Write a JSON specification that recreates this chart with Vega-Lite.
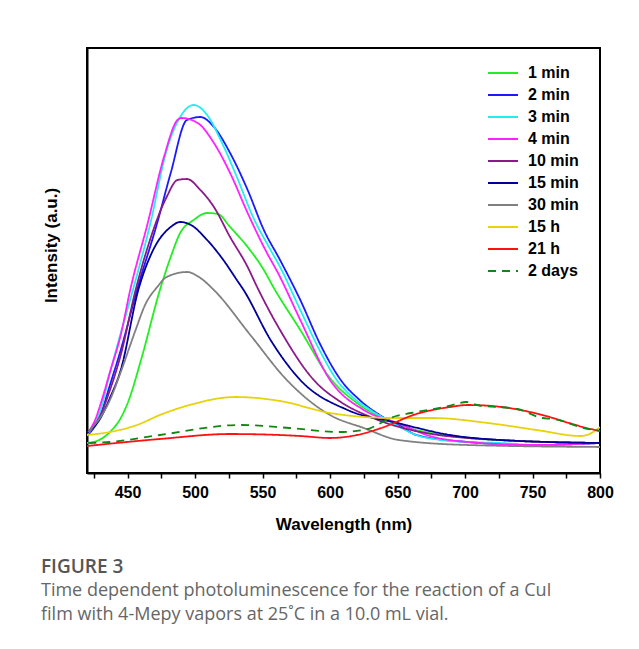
{
  "$schema": "https://vega.github.io/schema/vega-lite/v6.json",
  "width": 513,
  "height": 425,
  "autosize": {"type": "none"},
  "padding": {"left": 87, "top": 48, "right": 39, "bottom": 176},
  "background": "white",
  "config": {"view": {"stroke": "black", "strokeWidth": 2}, "font": "Liberation Sans"},
  "title": {
    "text": "FIGURE 3",
    "subtitle": ["Time dependent photoluminescence for the reaction of a CuI", "film with 4-Mepy vapors at 25˚C in a 10.0 mL vial."],
    "orient": "bottom",
    "anchor": "start",
    "frame": "group",
    "dx": -46,
    "offset": 26,
    "font": "Open Sans",
    "fontSize": 19,
    "fontWeight": 600,
    "color": "#555555",
    "subtitleFont": "Open Sans",
    "subtitleFontSize": 18,
    "subtitleColor": "#666666",
    "subtitlePadding": 5,
    "subtitleLineHeight": 24
  },
  "data": {
    "values": [
      {"s": "1 min", "nm": 420, "v": 30}, {"s": "1 min", "nm": 425, "v": 31}, {"s": "1 min", "nm": 437, "v": 41}, {"s": "1 min", "nm": 445, "v": 55}, {"s": "1 min", "nm": 451, "v": 73}, {"s": "1 min", "nm": 460, "v": 113}, {"s": "1 min", "nm": 474, "v": 183}, {"s": "1 min", "nm": 482, "v": 216}, {"s": "1 min", "nm": 489, "v": 240}, {"s": "1 min", "nm": 499, "v": 253}, {"s": "1 min", "nm": 509, "v": 260}, {"s": "1 min", "nm": 517, "v": 259}, {"s": "1 min", "nm": 526, "v": 246}, {"s": "1 min", "nm": 539, "v": 226}, {"s": "1 min", "nm": 551, "v": 203}, {"s": "1 min", "nm": 558, "v": 186}, {"s": "1 min", "nm": 578, "v": 143}, {"s": "1 min", "nm": 600, "v": 95}, {"s": "1 min", "nm": 622, "v": 68}, {"s": "1 min", "nm": 652, "v": 48}, {"s": "1 min", "nm": 696, "v": 36}, {"s": "1 min", "nm": 740, "v": 32}, {"s": "1 min", "nm": 800, "v": 30},
      {"s": "2 min", "nm": 420, "v": 37}, {"s": "2 min", "nm": 430, "v": 58}, {"s": "2 min", "nm": 437, "v": 88}, {"s": "2 min", "nm": 445, "v": 123}, {"s": "2 min", "nm": 457, "v": 183}, {"s": "2 min", "nm": 472, "v": 250}, {"s": "2 min", "nm": 482, "v": 300}, {"s": "2 min", "nm": 494, "v": 353}, {"s": "2 min", "nm": 504, "v": 356}, {"s": "2 min", "nm": 514, "v": 346}, {"s": "2 min", "nm": 526, "v": 320}, {"s": "2 min", "nm": 539, "v": 283}, {"s": "2 min", "nm": 551, "v": 243}, {"s": "2 min", "nm": 563, "v": 213}, {"s": "2 min", "nm": 578, "v": 173}, {"s": "2 min", "nm": 593, "v": 128}, {"s": "2 min", "nm": 608, "v": 93}, {"s": "2 min", "nm": 622, "v": 73}, {"s": "2 min", "nm": 638, "v": 57}, {"s": "2 min", "nm": 652, "v": 47}, {"s": "2 min", "nm": 664, "v": 38}, {"s": "2 min", "nm": 702, "v": 31}, {"s": "2 min", "nm": 753, "v": 28}, {"s": "2 min", "nm": 800, "v": 30},
      {"s": "3 min", "nm": 420, "v": 38}, {"s": "3 min", "nm": 430, "v": 63}, {"s": "3 min", "nm": 437, "v": 100}, {"s": "3 min", "nm": 445, "v": 140}, {"s": "3 min", "nm": 454, "v": 183}, {"s": "3 min", "nm": 467, "v": 250}, {"s": "3 min", "nm": 479, "v": 323}, {"s": "3 min", "nm": 489, "v": 356}, {"s": "3 min", "nm": 499, "v": 368}, {"s": "3 min", "nm": 509, "v": 358}, {"s": "3 min", "nm": 519, "v": 333}, {"s": "3 min", "nm": 531, "v": 296}, {"s": "3 min", "nm": 543, "v": 256}, {"s": "3 min", "nm": 556, "v": 223}, {"s": "3 min", "nm": 563, "v": 206}, {"s": "3 min", "nm": 578, "v": 163}, {"s": "3 min", "nm": 593, "v": 121}, {"s": "3 min", "nm": 605, "v": 93}, {"s": "3 min", "nm": 615, "v": 78}, {"s": "3 min", "nm": 630, "v": 63}, {"s": "3 min", "nm": 645, "v": 51}, {"s": "3 min", "nm": 664, "v": 38}, {"s": "3 min", "nm": 682, "v": 33}, {"s": "3 min", "nm": 702, "v": 31}, {"s": "3 min", "nm": 726, "v": 30}, {"s": "3 min", "nm": 753, "v": 28}, {"s": "3 min", "nm": 778, "v": 29}, {"s": "3 min", "nm": 800, "v": 30},
      {"s": "4 min", "nm": 420, "v": 39}, {"s": "4 min", "nm": 426, "v": 53}, {"s": "4 min", "nm": 431, "v": 73}, {"s": "4 min", "nm": 437, "v": 101}, {"s": "4 min", "nm": 445, "v": 138}, {"s": "4 min", "nm": 452, "v": 183}, {"s": "4 min", "nm": 465, "v": 250}, {"s": "4 min", "nm": 477, "v": 316}, {"s": "4 min", "nm": 487, "v": 353}, {"s": "4 min", "nm": 490, "v": 355}, {"s": "4 min", "nm": 502, "v": 350}, {"s": "4 min", "nm": 514, "v": 330}, {"s": "4 min", "nm": 526, "v": 300}, {"s": "4 min", "nm": 539, "v": 260}, {"s": "4 min", "nm": 551, "v": 226}, {"s": "4 min", "nm": 563, "v": 196}, {"s": "4 min", "nm": 578, "v": 153}, {"s": "4 min", "nm": 600, "v": 93}, {"s": "4 min", "nm": 625, "v": 63}, {"s": "4 min", "nm": 650, "v": 50}, {"s": "4 min", "nm": 674, "v": 37}, {"s": "4 min", "nm": 702, "v": 31}, {"s": "4 min", "nm": 753, "v": 28}, {"s": "4 min", "nm": 800, "v": 30},
      {"s": "10 min", "nm": 420, "v": 40}, {"s": "10 min", "nm": 430, "v": 58}, {"s": "10 min", "nm": 437, "v": 83}, {"s": "10 min", "nm": 445, "v": 118}, {"s": "10 min", "nm": 456, "v": 183}, {"s": "10 min", "nm": 465, "v": 226}, {"s": "10 min", "nm": 479, "v": 276}, {"s": "10 min", "nm": 487, "v": 293}, {"s": "10 min", "nm": 494, "v": 294}, {"s": "10 min", "nm": 504, "v": 283}, {"s": "10 min", "nm": 514, "v": 266}, {"s": "10 min", "nm": 526, "v": 236}, {"s": "10 min", "nm": 539, "v": 206}, {"s": "10 min", "nm": 546, "v": 186}, {"s": "10 min", "nm": 563, "v": 143}, {"s": "10 min", "nm": 588, "v": 93}, {"s": "10 min", "nm": 608, "v": 71}, {"s": "10 min", "nm": 630, "v": 56}, {"s": "10 min", "nm": 667, "v": 41}, {"s": "10 min", "nm": 726, "v": 33}, {"s": "10 min", "nm": 800, "v": 30},
      {"s": "15 min", "nm": 420, "v": 40}, {"s": "15 min", "nm": 430, "v": 55}, {"s": "15 min", "nm": 437, "v": 75}, {"s": "15 min", "nm": 445, "v": 103}, {"s": "15 min", "nm": 458, "v": 183}, {"s": "15 min", "nm": 469, "v": 223}, {"s": "15 min", "nm": 482, "v": 246}, {"s": "15 min", "nm": 489, "v": 251}, {"s": "15 min", "nm": 497, "v": 248}, {"s": "15 min", "nm": 509, "v": 233}, {"s": "15 min", "nm": 521, "v": 213}, {"s": "15 min", "nm": 531, "v": 193}, {"s": "15 min", "nm": 536, "v": 183}, {"s": "15 min", "nm": 556, "v": 133}, {"s": "15 min", "nm": 578, "v": 93}, {"s": "15 min", "nm": 613, "v": 63}, {"s": "15 min", "nm": 650, "v": 50}, {"s": "15 min", "nm": 689, "v": 38}, {"s": "15 min", "nm": 726, "v": 33}, {"s": "15 min", "nm": 800, "v": 30},
      {"s": "30 min", "nm": 421, "v": 41}, {"s": "30 min", "nm": 437, "v": 73}, {"s": "30 min", "nm": 445, "v": 101}, {"s": "30 min", "nm": 456, "v": 143}, {"s": "30 min", "nm": 463, "v": 168}, {"s": "30 min", "nm": 472, "v": 186}, {"s": "30 min", "nm": 479, "v": 196}, {"s": "30 min", "nm": 494, "v": 201}, {"s": "30 min", "nm": 504, "v": 195}, {"s": "30 min", "nm": 514, "v": 183}, {"s": "30 min", "nm": 541, "v": 138}, {"s": "30 min", "nm": 568, "v": 93}, {"s": "30 min", "nm": 600, "v": 58}, {"s": "30 min", "nm": 625, "v": 45}, {"s": "30 min", "nm": 651, "v": 33}, {"s": "30 min", "nm": 702, "v": 28}, {"s": "30 min", "nm": 800, "v": 26},
      {"s": "15 h", "nm": 420, "v": 38}, {"s": "15 h", "nm": 437, "v": 41}, {"s": "15 h", "nm": 457, "v": 48}, {"s": "15 h", "nm": 474, "v": 58}, {"s": "15 h", "nm": 496, "v": 68}, {"s": "15 h", "nm": 530, "v": 76}, {"s": "15 h", "nm": 563, "v": 72}, {"s": "15 h", "nm": 600, "v": 60}, {"s": "15 h", "nm": 646, "v": 55}, {"s": "15 h", "nm": 676, "v": 55}, {"s": "15 h", "nm": 717, "v": 50}, {"s": "15 h", "nm": 753, "v": 43}, {"s": "15 h", "nm": 786, "v": 37}, {"s": "15 h", "nm": 795, "v": 41}, {"s": "15 h", "nm": 800, "v": 46},
      {"s": "21 h", "nm": 420, "v": 27}, {"s": "21 h", "nm": 474, "v": 34}, {"s": "21 h", "nm": 526, "v": 39}, {"s": "21 h", "nm": 578, "v": 37}, {"s": "21 h", "nm": 600, "v": 35}, {"s": "21 h", "nm": 620, "v": 38}, {"s": "21 h", "nm": 638, "v": 45}, {"s": "21 h", "nm": 664, "v": 59}, {"s": "21 h", "nm": 689, "v": 66}, {"s": "21 h", "nm": 702, "v": 68}, {"s": "21 h", "nm": 727, "v": 66}, {"s": "21 h", "nm": 760, "v": 57}, {"s": "21 h", "nm": 777, "v": 50}, {"s": "21 h", "nm": 790, "v": 45}, {"s": "21 h", "nm": 800, "v": 42},
      {"s": "2 days", "nm": 421, "v": 30}, {"s": "2 days", "nm": 437, "v": 31}, {"s": "2 days", "nm": 474, "v": 38}, {"s": "2 days", "nm": 533, "v": 48}, {"s": "2 days", "nm": 570, "v": 45}, {"s": "2 days", "nm": 607, "v": 41}, {"s": "2 days", "nm": 625, "v": 43}, {"s": "2 days", "nm": 649, "v": 57}, {"s": "2 days", "nm": 660, "v": 60}, {"s": "2 days", "nm": 688, "v": 67}, {"s": "2 days", "nm": 701, "v": 71}, {"s": "2 days", "nm": 709, "v": 68}, {"s": "2 days", "nm": 739, "v": 64}, {"s": "2 days", "nm": 757, "v": 55}, {"s": "2 days", "nm": 766, "v": 54}, {"s": "2 days", "nm": 788, "v": 45}, {"s": "2 days", "nm": 800, "v": 42}
    ]
  },
  "mark": {"type": "line", "strokeWidth": 1.8, "clip": true, "interpolate": "monotone"},
  "encoding": {
    "x": {
      "field": "nm", "type": "quantitative",
      "scale": {"domain": [420, 800], "nice": false, "zero": false},
      "axis": {
        "values": [425, 450, 475, 500, 525, 550, 575, 600, 625, 650, 675, 700, 725, 750, 775, 800],
        "labelExpr": "datum.value % 50 == 0 ? datum.label : ''",
        "labelFlush": false, "labelOverlap": false,
        "grid": false, "domainColor": "black", "domainWidth": 2,
        "tickColor": "black", "tickWidth": 1.5, "tickSize": 5,
        "labelFont": "Liberation Sans", "labelFontSize": 16, "labelFontWeight": "bold", "labelColor": "black", "labelPadding": 6,
        "title": "Wavelength (nm)", "titleFont": "Liberation Sans", "titleFontSize": 17, "titleFontWeight": "bold", "titleColor": "black", "titlePadding": 16
      }
    },
    "y": {
      "field": "v", "type": "quantitative",
      "scale": {"domain": [0, 425], "nice": false},
      "axis": {
        "ticks": false, "labels": false, "grid": false, "domainColor": "black", "domainWidth": 2,
        "title": "Intensity (a.u.)", "titleFont": "Liberation Sans", "titleFontSize": 17, "titleFontWeight": "bold", "titleColor": "black", "titlePadding": 27, "titleY": 197
      }
    },
    "color": {
      "field": "s", "type": "nominal",
      "scale": {
        "domain": ["1 min", "2 min", "3 min", "4 min", "10 min", "15 min", "30 min", "15 h", "21 h", "2 days"],
        "range": ["#22ee22", "#1a1aff", "#22eeee", "#ff22ff", "#8b1a89", "#000099", "#808080", "#e8d20a", "#ff1111", "#118811"]
      },
      "legend": {
        "title": null, "orient": "none", "legendX": 400, "legendY": 14, "padding": 0,
        "symbolType": "stroke", "symbolSize": 900, "symbolStrokeWidth": 2,
        "labelFont": "Liberation Sans", "labelFontSize": 16, "labelFontWeight": "bold", "labelColor": "black", "labelOffset": 9, "rowPadding": 0,
        "clipHeight": 21.8, "symbolOffset": 0
      }
    },
    "strokeDash": {
      "field": "s", "type": "nominal",
      "scale": {
        "domain": ["1 min", "2 min", "3 min", "4 min", "10 min", "15 min", "30 min", "15 h", "21 h", "2 days"],
        "range": [[1, 0], [1, 0], [1, 0], [1, 0], [1, 0], [1, 0], [1, 0], [1, 0], [1, 0], [8, 6]]
      },
      "legend": {
        "title": null, "orient": "none", "legendX": 400, "legendY": 14, "padding": 0,
        "symbolType": "stroke", "symbolSize": 900, "symbolStrokeWidth": 2,
        "labelFont": "Liberation Sans", "labelFontSize": 16, "labelFontWeight": "bold", "labelColor": "black", "labelOffset": 9, "rowPadding": 0,
        "clipHeight": 21.8, "symbolOffset": 0
      }
    }
  }
}
